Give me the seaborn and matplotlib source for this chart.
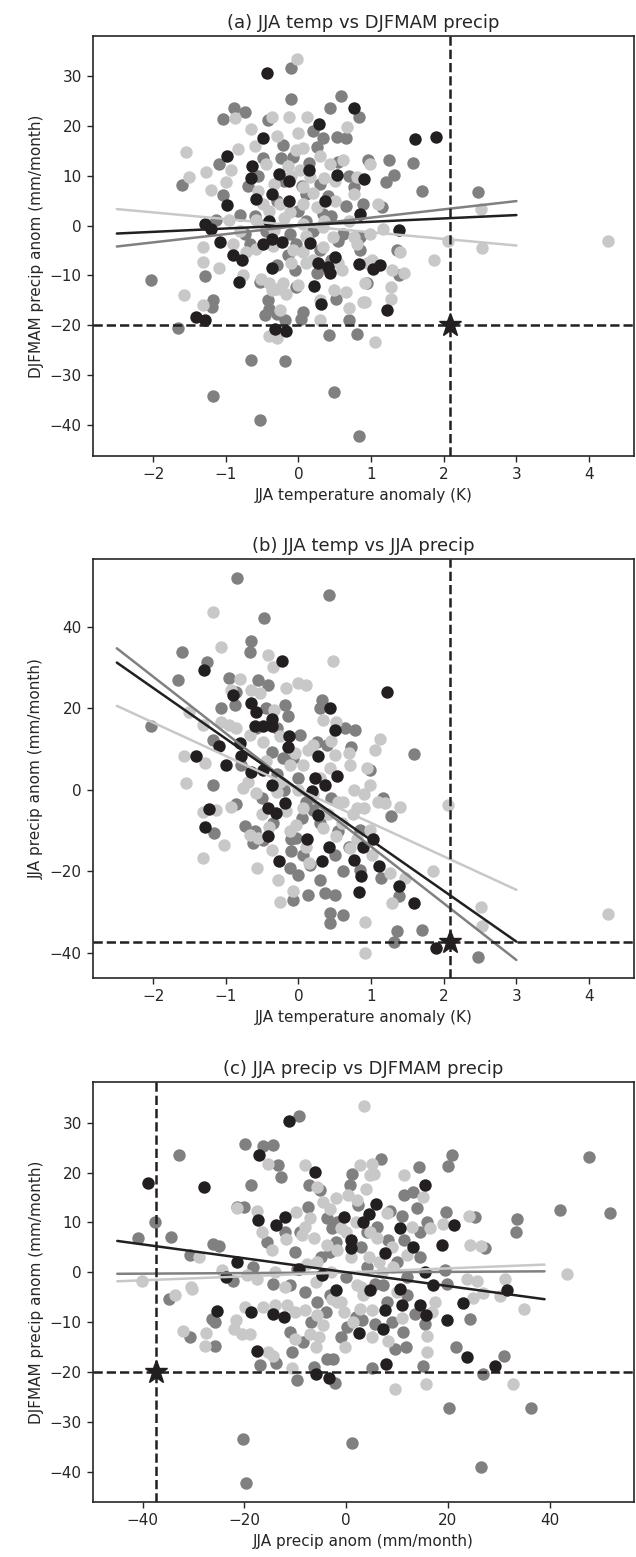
import numpy as np
import pandas as pd
import matplotlib
matplotlib.use("Agg")
import matplotlib.pyplot as plt
import seaborn as sns

# ---------------- data ----------------
series_names = ["gray", "light", "black"]
series_colors = {"black": "#231f20", "gray": "#808080", "light": "#c8c8c8"}

# Panel (a): JJA temperature anomaly (K) vs DJFMAM precip anom (mm/month)
a_black = [(-0.43,30.5),(0.77,23.6),(0.28,20.3),(-0.49,17.6),(-0.98,13.9),(-0.64,11.9),(-0.65,9.6),(-0.27,10.4),
           (-0.13,8.9),(0.14,11.2),(0.53,10.1),(0.90,9.4),(-0.36,6.4),(-0.59,5.4),(-0.13,4.9),(0.37,4.9),(-0.99,4.1),
           (0.85,2.4),(-1.28,0.4),(-1.21,-0.6),(-0.41,0.9),(-1.08,-3.2),(-0.49,-3.6),(-0.36,-2.6),(-0.22,-3.3),
           (0.16,-3.5),(-0.90,-6.0),(0.50,-6.3),(-0.78,-7.0),(-0.37,-8.6),(-0.82,-11.3),(0.27,-7.5),(0.41,-8.3),
           (0.43,-9.6),(0.84,-7.8),(0.22,-12.2),(0.31,-15.7),(-1.41,-18.3),(-1.29,-18.9),(-0.32,-20.7),(-0.17,-21.2),
           (1.60,17.3),(1.89,17.8),(1.38,-0.9),(1.03,-8.8),(1.12,-8.0),(1.22,-17.0)]
a_gray = [(-0.10,31.5),(-0.10,25.3),(0.59,26.0),(-0.89,23.6),(-0.73,22.8),(-1.04,21.3),(-0.42,21.2),(0.43,23.5),
          (0.84,21.7),(0.34,17.5),(0.53,17.8),(0.66,17.5),(-0.21,16.1),(-0.24,13.5),(-0.07,13.8),(-0.49,13.5),
          (0.25,15.8),(-1.09,12.4),(0.55,12.8),(0.96,13.1),(-1.60,8.1),(-1.04,6.1),(0.11,6.4),(0.29,8.4),(0.76,7.8),
          (0.89,4.4),(0.34,2.4),(-0.81,2.1),(-1.13,1.1),(-0.12,-1.6),(-0.03,-3.6),(0.62,-1.6),(-0.74,-1.6),(-0.67,-3.6),
          (-2.03,-11.0),(-1.29,-10.2),(-1.17,-14.9),(-1.19,-16.3),(-1.66,-20.5),(-0.65,-27.0),(-0.19,-27.2),
          (-1.18,-34.1),(-0.53,-38.9),(0.49,-33.4),(0.84,-42.2),(-0.53,-11.3),(-0.42,-15.0),(-0.40,-16.7),
          (-0.46,-18.0),(-0.30,-17.7),(-0.19,-19.0),(0.06,-17.3),(0.04,-18.7),(-0.03,-12.3),(0.34,-8.3),(0.52,-14.7),
          (0.69,-19.0),(0.42,-22.0),(0.80,-21.7),(0.94,-11.6),(1.24,13.1),(1.57,12.6),(1.31,10.1),(1.21,8.8),
          (1.70,6.9),(2.47,6.8),(1.15,3.7),(0.85,-2.3),(1.35,-5.0),(1.38,-10.0),
          (-0.30,5.0),(0.00,3.0),(0.20,-1.0),(0.45,2.0),(-0.15,-6.0),(0.30,-5.0),(0.05,8.0),(-0.45,-1.0),(0.55,-3.0),
          (0.65,4.0),(-0.60,2.0),(-0.20,9.0),(0.15,12.5),(0.40,6.0),(-0.05,-9.0),(0.25,-9.5),
          (-0.55,10.0),(0.10,1.0),(0.45,-7.0),(-0.30,-8.0),(0.70,10.0),(0.20,19.0),(-0.70,8.0),(0.85,-5.0)]
a_light = [(-0.02,33.3),(-0.37,21.7),(-0.13,21.7),(0.12,21.7),(-0.87,21.5),(-0.65,19.3),(0.67,19.7),(-1.55,14.8),
           (-0.83,15.3),(-0.03,15.1),(0.06,15.5),(-1.27,10.8),(-1.50,9.8),(-1.20,7.2),(-1.00,8.8),(-0.93,11.1),
           (-0.44,12.4),(-0.33,8.4),(0.02,11.1),(0.16,9.8),(0.06,7.8),(0.43,12.4),(0.62,13.1),(0.80,9.8),(0.76,6.4),
           (-0.49,4.4),(-0.26,4.4),(-0.12,2.7),(0.06,4.4),(0.25,3.7),(-0.95,1.1),(-0.58,1.1),(-0.44,0.4),(-1.32,-4.3),
           (0.06,0.4),(0.34,-0.3),(0.48,-2.3),(0.76,-2.3),(-0.33,-0.9),(-0.90,-3.6),(-0.72,-5.3),(-0.58,-4.6),
           (-0.07,-5.0),(0.06,-5.3),(0.34,-4.3),(0.80,-3.6),(-1.32,-7.3),(-1.09,-8.6),(-1.57,-14.0),(-1.32,-16.0),
           (-0.76,-10.0),(-0.51,-10.7),(-0.40,-11.6),(-0.30,-12.7),(-0.17,-13.7),(-0.37,-13.0),(-0.21,-11.6),
           (-0.10,-7.6),(0.11,-7.6),(-0.40,-22.2),(-0.30,-22.5),(0.29,-19.0),(0.49,-13.0),(0.66,-13.3),(0.69,-16.5),
           (0.89,-15.3),(0.94,-7.6),(0.99,12.4),(1.10,4.4),(2.51,3.4),(1.17,-0.6),(0.99,-1.6),(2.06,-3.1),(2.52,-4.4),
           (4.26,-3.1),(1.40,-5.3),(1.86,-7.0),(1.01,-7.0),(1.29,-9.0),(1.45,-9.6),(0.92,-11.6),(1.27,-12.3),
           (1.27,-14.7),(0.92,-15.3),(1.06,-23.4),
           (-0.20,1.5),(0.10,-2.0),(0.35,1.0),(-0.35,-4.0),(0.20,6.5),(-0.10,10.0),(0.50,9.0),(-0.55,7.0),(0.00,-12.0),
           (0.30,-15.0),(-0.25,-17.0),(0.55,-7.5),
           (-0.60,16.0),(-0.30,18.0),(0.30,14.0),(0.50,5.0),(0.70,1.0),(-0.80,-1.0),(0.20,-7.0),(-0.15,12.0),
           (0.35,9.5),(-0.40,3.0),(0.60,-9.0),(0.00,18.5)]

# Panel (b): JJA temperature anomaly (K) vs JJA precip anom (mm/month)
b_black = [(-0.22,31.6),(-1.30,29.4),(-0.90,23.3),(-0.65,21.4),(-0.59,19.2),(-0.37,17.3),(-0.60,15.7),(-0.49,15.7),
           (-0.36,15.7),(-0.13,13.2),(-0.14,10.6),(0.43,20.0),(0.50,14.7),(-1.09,10.8),(-1.41,8.2),(-1.00,6.1),
           (-0.81,11.4),(0.27,8.2),(-0.79,8.2),(-0.65,4.5),(-0.49,4.9),(-0.36,1.2),(0.23,2.9),(0.36,1.2),(0.53,3.4),
           (0.18,-0.2),(0.27,-6.1),(-0.18,-3.3),(-0.42,-4.5),(-0.31,-5.7),(-1.23,-4.7),(-1.28,-9.0),(-0.42,-11.3),
           (0.12,-12.0),(0.42,-13.9),(-0.27,-17.4),(0.32,-17.4),(0.76,-17.2),(0.86,-21.2),(0.84,-25.1),(0.89,-13.9),
           (1.22,23.9),(1.03,-12.1),(1.11,-18.6),(1.38,-23.5),(1.59,-27.8),(1.89,-38.8)]
b_gray = [(-0.84,51.9),(0.42,47.8),(-0.47,42.2),(-0.65,36.5),(-0.67,33.7),(-1.60,33.7),(-1.26,31.3),(-1.66,27.0),
          (-0.95,27.5),(-0.56,27.0),(-0.42,25.7),(-0.86,24.1),(-0.88,20.8),(-1.07,20.0),(-2.03,15.7),(-0.19,20.8),
          (-0.44,20.0),(0.32,22.1),(0.29,20.0),(0.64,15.1),(0.78,14.7),(-1.18,12.3),(-0.58,15.1),(-0.30,15.1),
          (0.02,13.5),(0.25,11.8),(0.39,11.0),(0.73,10.6),(-0.37,9.4),(-0.21,7.8),(-0.07,7.8),(-0.79,6.1),
          (-1.16,-10.6),(-0.74,-8.8),(-0.62,-13.1),(-0.49,-12.3),(-0.10,-15.1),(-0.12,-19.2),(0.00,-20.8),
          (0.06,-15.9),(0.16,-18.4),(0.29,-22.1),(-0.07,-27.0),(0.13,-25.7),(0.36,-25.3),(0.50,-25.7),(0.43,-30.2),
          (0.43,-32.7),(0.62,-30.6),(0.62,-20.0),(-0.03,-11.8),(0.85,-9.8),(-1.18,1.2),(-0.86,-3.5),(1.59,8.7),
          (0.99,4.9),(1.17,-2.0),(1.28,-6.3),(1.13,-21.7),(1.39,-25.9),(1.35,-34.7),(1.31,-37.4),(1.70,-34.3),
          (2.47,-41.0),(0.85,-19.6),
          (-0.20,0.0),(0.10,-3.0),(0.30,-8.0),(-0.35,-8.0),(0.00,3.0),(0.45,-2.0),(-0.10,-12.0),(0.20,-5.0),
          (0.55,-10.0),(-0.50,-2.0),
          (-0.30,4.0),(0.50,-16.0),(-0.60,-10.0),(0.05,-7.0),(0.70,-14.0),(-0.15,18.0)]
b_light = [(-1.18,43.5),(-1.06,34.9),(-0.42,33.1),(-0.35,30.2),(0.48,31.5),(-0.81,27.2),(-0.17,24.9),(0.00,26.1),
           (0.11,25.7),(-0.65,24.5),(-0.53,23.7),(-0.93,24.5),(-1.50,19.2),(-1.32,15.9),(-1.06,16.7),(-0.95,15.9),
           (-0.86,15.1),(-0.33,19.6),(0.34,17.2),(0.52,16.7),(-0.67,13.5),(-0.49,11.8),(-0.26,13.1),(-1.57,8.2),
           (0.13,9.8),(0.50,8.6),(0.69,9.0),(-1.29,6.5),(-0.12,6.1),(0.06,6.1),(0.43,5.3),(0.94,5.3),(-1.55,1.6),
           (-1.32,-5.5),(-1.13,-4.9),(-1.02,-13.5),(-1.31,-16.6),(-0.93,-4.1),(-0.76,0.4),(-0.58,-0.8),(-0.67,-11.0),
           (-0.56,-11.8),(-0.57,-19.2),(-0.28,-22.1),(-0.25,-27.4),(-0.07,-24.8),(-0.37,-14.7),(-0.17,-5.3),
           (-0.03,-8.6),(0.06,-4.5),(-0.12,-10.2),(0.34,-9.4),(0.52,-11.4),(0.76,0.0),(0.71,-14.3),(0.62,-2.9),
           (0.80,-4.5),(-0.30,-0.4),(0.92,-32.3),(0.92,-40.0),(0.71,6.1),(1.12,12.4),(1.06,9.8),(0.99,1.1),
           (1.10,-2.9),(1.19,-3.3),(0.90,-4.5),(1.40,-4.2),(2.06,-3.7),(0.99,-9.8),(1.01,-15.9),(1.26,-20.4),
           (1.46,-21.7),(1.85,-19.8),(1.29,-27.8),(2.51,-28.6),(2.53,-33.3),(4.26,-30.4),
           (0.00,0.0),(-0.25,2.0),(0.20,-1.0),(0.40,-6.0),(-0.40,-9.0),(0.10,-14.0),(0.60,-8.0),(-0.05,9.0),
           (0.30,3.0),(0.75,-6.0),(0.90,-1.0),
           (-0.45,7.0),(0.20,11.0),(-0.70,2.0),(0.55,-3.0),(0.15,-18.0),(-0.50,-6.0),(0.45,12.0),(0.80,-12.0)]

# Panel (c): JJA precip anom vs DJFMAM precip anom (mm/month)
c_black = [(-38.9,18.0),(-27.9,17.1),(-11.3,30.4),(-17.1,23.6),(-6.2,20.1),(-17.4,10.4),(-13.8,9.4),(-12.0,11.2),
           (-0.5,11.1),(3.4,10.1),(1.0,6.4),(1.0,4.8),(-21.5,2.1),(-9.2,0.7),(-4.8,-0.6),(-23.6,-0.9),(-2.0,-3.6),
           (-25.3,-7.8),(-18.7,-8.0),(-14.4,-8.3),(-12.2,-8.9),(-17.6,-15.8),(-5.9,-20.5),(-3.4,-21.2),(2.6,-12.2),
           (15.4,17.6),(5.8,13.8),(4.4,11.8),(10.5,8.9),(21.1,9.4),(18.8,5.4),(13.1,5.0),(7.7,3.9),(15.5,0.1),
           (17.0,-2.5),(31.6,-3.5),(4.7,-3.6),(10.5,-3.3),(11.0,-6.6),(14.6,-6.5),(7.7,-7.5),(15.7,-8.6),(22.9,-6.2),
           (19.9,-9.6),(7.2,-11.4),(23.7,-17.0),(29.3,-18.9),(7.9,-18.3)]
c_gray = [(-9.2,31.3),(-19.9,25.8),(-16.4,25.4),(-14.4,25.5),(-32.8,23.6),(-13.4,21.6),(-12.8,19.1),(-18.7,17.6),
          (-7.4,17.5),(-5.1,16.5),(1.1,19.8),(0.8,17.5),(-21.5,13.1),(-20.1,13.1),(-7.6,13.1),(-37.6,10.1),
          (-41.0,6.9),(-34.5,7.0),(-26.1,5.6),(-25.1,5.3),(-30.7,3.4),(-15.6,6.1),(-9.0,8.1),(-3.8,10.8),(-2.8,8.8),
          (-1.8,10.1),(-9.7,0.7),(-18.4,1.1),(-3.1,4.1),(4.1,8.1),(2.4,13.5),(-11.0,-2.6),(-14.3,-2.3),(-22.2,-1.8),
          (-34.9,-5.3),(-26.4,-9.3),(-25.8,-9.9),(-30.7,-12.9),(-25.8,-14.7),(-17.0,-18.7),(-13.8,-18.2),
          (-10.7,-16.0),(-9.7,-21.7),(-6.4,-19.0),(-3.8,-17.3),(-2.5,-17.3),(-2.2,-22.2),(-20.2,-33.4),(-19.7,-42.3),
          (1.2,-34.2),(-11.0,-12.0),(-8.4,-14.0),(0.1,-11.0),(2.8,-9.3),(-5.8,-6.0),(-3.1,-4.6),(47.7,23.2),
          (42.0,12.6),(51.8,11.9),(20.8,23.6),(20.1,21.3),(14.4,21.2),(6.8,22.7),(11.3,15.6),(13.1,16.1),(8.7,12.4),
          (11.0,11.4),(19.7,12.2),(25.4,11.1),(33.6,10.6),(33.4,8.0),(15.9,10.1),(14.6,8.1),(8.3,6.4),(11.3,6.4),
          (14.6,3.1),(27.3,4.9),(19.5,0.4),(5.7,-2.3),(7.3,-2.6),(19.8,-2.3),(11.9,-4.6),(13.6,-8.3),(15.5,-10.3),
          (5.7,-10.3),(11.1,-12.0),(9.6,-15.3),(11.8,-15.0),(5.0,-19.3),(15.2,-18.8),(21.6,-14.9),(24.3,-9.3),
          (31.1,-16.7),(26.9,-20.5),(20.3,-27.2),(36.3,-27.2),(26.5,-39.0),(3.1,-9.6),
          (-5.0,3.0),(0.0,-1.0),(4.0,1.0),(-8.0,-4.0),(8.0,-6.0),(-2.0,6.0),(2.0,-9.0),(-10.0,4.0),(10.0,2.0),
          (12.0,-1.0),(-4.0,-8.0),(6.0,9.0),
          (-12.0,8.0),(3.0,5.0),(9.0,-10.0),(-7.0,-10.0),(14.0,13.0),(-1.0,-13.0)]
c_light = [(3.5,33.3),(-15.3,21.8),(-8.1,21.6),(-5.8,17.1),(2.8,21.5),(4.7,19.5),(0.3,15.5),(2.1,14.5),(-21.5,12.9),
           (-17.6,12.4),(-9.9,12.1),(-7.1,10.9),(-4.5,14.1),(-3.1,12.8),(-16.6,8.1),(-11.8,6.6),(-8.7,7.4),(-6.4,6.8),
           (-14.6,4.4),(-3.8,5.4),(-1.8,4.4),(-1.0,8.8),(-29.0,3.1),(-24.5,0.4),(-40.2,-1.8),(-30.5,-2.9),(-7.7,1.7),
           (-5.8,2.1),(2.1,-2.6),(-17.6,-1.3),(-19.5,-0.6),(-33.6,-4.6),(-30.4,-3.3),(-32.0,-11.7),(-27.5,-12.2),
           (-27.7,-14.7),(-21.6,-9.6),(-22.0,-11.3),(-20.5,-12.3),(-18.9,-12.3),(-19.9,-7.0),(-16.3,-7.0),(-14.0,-6.6),
           (-15.3,-16.0),(-14.3,-16.7),(-10.7,-19.2),(-11.7,-6.6),(-8.1,-7.6),(-5.8,-8.6),(-4.5,-10.6),(-10.0,-13.3),
           (-7.1,-12.3),(-5.4,-13.0),(-1.8,-6.0),(-0.5,-8.0),(1.4,-10.0),(-0.2,-15.0),(-2.8,-5.3),(5.0,21.8),
           (5.4,19.8),(11.3,19.5),(15.2,15.1),(3.8,16.8),(19.0,9.6),(16.4,8.8),(24.1,11.4),(24.4,5.4),(26.5,5.3),
           (4.7,8.1),(6.0,6.8),(4.4,3.1),(6.4,2.1),(9.3,1.1),(11.9,3.4),(43.4,-0.4),(23.7,-1.3),(25.7,-1.8),
           (31.3,-1.4),(26.9,-4.1),(30.3,-4.8),(24.9,-5.2),(17.5,-6.0),(16.8,-8.0),(34.9,-7.4),(5.0,-7.6),(11.0,-9.2),
           (8.3,-13.7),(15.9,-12.7),(15.9,-16.0),(9.6,-23.4),(15.7,-22.4),(32.7,-22.4),(2.8,-7.3),(3.4,-4.6),
           (-3.0,0.0),(1.0,3.0),(3.0,-3.0),(-6.0,-2.0),(7.0,0.0),(-1.0,-6.0),(9.0,5.0),(-12.0,-3.0),(13.0,9.0),
           (0.0,8.0),(-8.0,9.0),
           (-10.0,-8.0),(5.0,-13.0),(8.0,12.0),(-2.0,15.0),(10.0,-4.0),(-14.0,0.0),(2.0,10.0),(-6.0,-15.0)]

# regression lines: (y at left end, y at right end)
a_fit_x = [-2.5, 3.0]
a_fit = {"black": [-1.6, 2.1], "gray": [-4.2, 4.9], "light": [3.3, -4.0]}
b_fit_x = [-2.5, 3.0]
b_fit = {"black": [31.2, -37.2], "gray": [34.7, -41.7], "light": [20.6, -24.5]}
c_fit_x = [-45.0, 39.0]
c_fit = {"black": [6.3, -5.4], "gray": [-0.3, 0.2], "light": [-1.8, 1.55]}

# observed event (star) values
obs_temp = 2.08
obs_jja = -37.4
obs_djf = -20.0

titles = ["(a) JJA temp vs DJFMAM precip", "(b) JJA temp vs JJA precip", "(c) JJA precip vs DJFMAM precip"]
xlabels = ["JJA temperature anomaly (K)", "JJA temperature anomaly (K)", "JJA precip anom (mm/month)"]
ylabels = ["DJFMAM precip anom (mm/month)", "JJA precip anom (mm/month)", "DJFMAM precip anom (mm/month)"]

# ---------------- plotting ----------------
sns.set_theme(style="ticks")
plt.rcParams["font.family"] = ["DejaVu Sans"]
plt.rcParams["axes.edgecolor"] = "#262626"
plt.rcParams["axes.linewidth"] = 1.2

fig = plt.figure(figsize=(6.36, 15.57), dpi=100)
ax_pos = [[0.146, 0.7071, 0.851, 0.2698],
          [0.146, 0.3719, 0.851, 0.2691],
          [0.146, 0.0353, 0.851, 0.2698]]

panels = [
    (dict(black=a_black, gray=a_gray, light=a_light), a_fit_x, a_fit, (obs_temp, obs_djf),
     (-2.83, 4.62), (-46.2, 38.0), [-2, -1, 0, 1, 2, 3, 4], [-40, -30, -20, -10, 0, 10, 20, 30]),
    (dict(black=b_black, gray=b_gray, light=b_light), b_fit_x, b_fit, (obs_temp, obs_jja),
     (-2.83, 4.62), (-46.1, 56.6), [-2, -1, 0, 1, 2, 3, 4], [-40, -20, 0, 20, 40]),
    (dict(black=c_black, gray=c_gray, light=c_light), c_fit_x, c_fit, (obs_jja, obs_djf),
     (-49.8, 56.6), (-46.1, 38.2), [-40, -20, 0, 20, 40], [-40, -30, -20, -10, 0, 10, 20, 30]),
]

k = series_colors["black"]
for i, (pts, fx, fits, star, xlim, ylim, xt, yt) in enumerate(panels):
    ax = fig.add_axes(ax_pos[i])
    for name in series_names:
        arr = np.array(pts[name])
        df = pd.DataFrame({"x": arr[:, 0], "y": arr[:, 1]})
        sns.scatterplot(data=df, x="x", y="y", color=series_colors[name], s=80,
                        linewidth=0, ax=ax, zorder=2)
    for name in series_names:
        sns.lineplot(x=fx, y=fits[name], color=series_colors[name], lw=1.8, ax=ax, zorder=3)
    ax.axvline(star[0], color=k, ls="--", lw=1.8, zorder=4)
    ax.axhline(star[1], color=k, ls="--", lw=1.8, zorder=4)
    ax.plot([star[0]], [star[1]], marker="*", ms=17, color=k, zorder=5, lw=0)
    ax.set_xlim(*xlim)
    ax.set_ylim(*ylim)
    ax.set_xticks(xt)
    ax.set_yticks(yt)
    ax.set_title(titles[i], fontsize=13, pad=6)
    ax.set_xlabel(xlabels[i], fontsize=11)
    ax.set_ylabel(ylabels[i], fontsize=11)
    ax.tick_params(labelsize=11, length=4.5, width=1.0, direction="out")
    for sp in ax.spines.values():
        sp.set_visible(True)

fig.savefig("out.png", dpi=100)
